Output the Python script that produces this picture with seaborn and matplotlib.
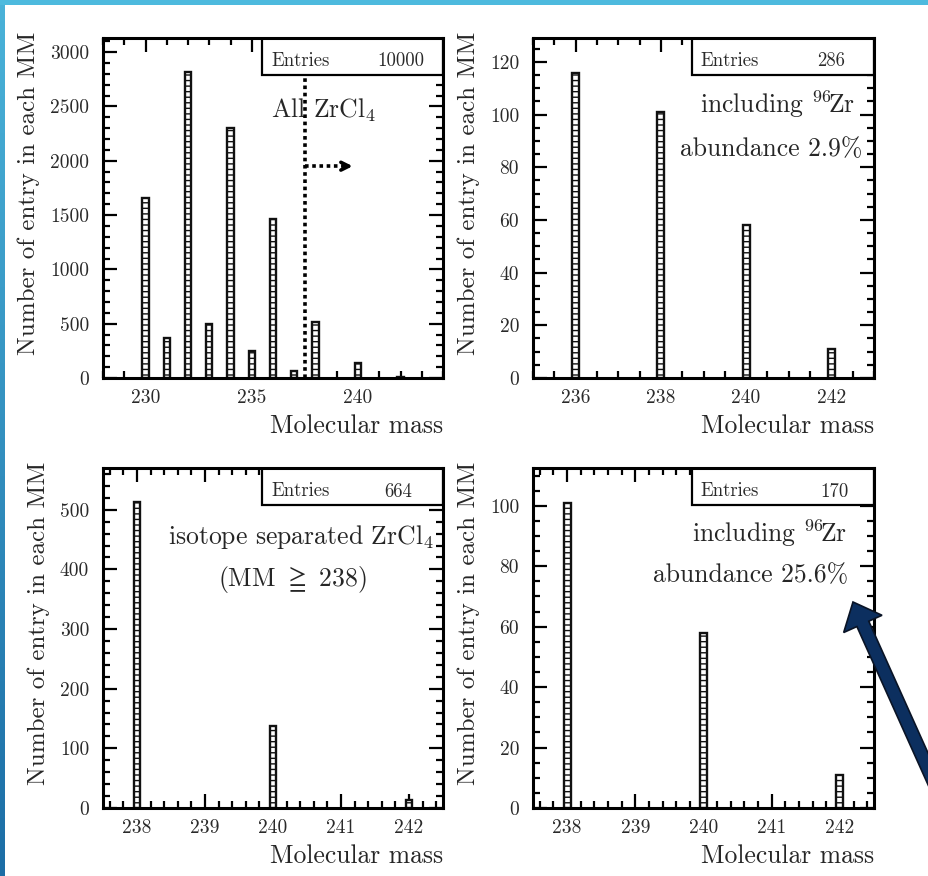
import numpy as np
import pandas as pd
import matplotlib
matplotlib.use("Agg")
import matplotlib.pyplot as plt
import seaborn as sns
from matplotlib.ticker import MultipleLocator, StrMethodFormatter
from matplotlib.patches import Rectangle, FancyArrow
from matplotlib.transforms import IdentityTransform

# ---------------- data ----------------
mass_all = [230, 231, 232, 233, 234, 235, 236, 237, 238, 240, 242]
count_all = [1660, 365, 2820, 495, 2305, 248, 1460, 62, 513, 140, 13]

mass_zr96 = [236, 238, 240, 242]
count_zr96 = [116, 101, 58, 11]

mass_sep = [238, 240, 242]
count_sep = [513, 138, 13]

mass_sep96 = [238, 240, 242]
count_sep96 = [101, 58, 11]

entries = ["10000", "286", "664", "170"]

# ---------------- style ----------------
sns.set_style("ticks")
plt.rcParams["font.family"] = ["cmr10", "DejaVu Serif"]
plt.rcParams["mathtext.fontset"] = "cm"
plt.rcParams["axes.formatter.use_mathtext"] = True
plt.rcParams["axes.unicode_minus"] = False

W, H = 929, 876
fig = plt.figure(figsize=(W / 100, H / 100), dpi=100)
fig.patch.set_facecolor("white")

def px_axes(x0, y0, x1, y1):
    return fig.add_axes([x0 / W, 1 - y1 / H, (x1 - x0) / W, (y1 - y0) / H])

ax_tl = px_axes(103, 38, 443, 378)
ax_tr = px_axes(533, 38, 874, 378)
ax_bl = px_axes(103, 468, 443, 808)
ax_br = px_axes(533, 468, 874, 808)

panels = [
    (ax_tl, mass_all, count_all, 0.29, (228, 244), 3130, 5, 1, 500, 100, 0.468),
    (ax_tr, mass_zr96, count_zr96, 0.085, (235, 243), 129.1, 2, 0.5, 20, 5, 0.466),
    (ax_bl, mass_sep, count_sep, 0.042, (237.5, 242.5), 570, 1, 0.2, 100, 20, 0.468),
    (ax_br, mass_sep96, count_sep96, 0.05, (237.5, 242.5), 112.5, 1, 0.2, 20, 5, 0.466),
]

for ax, xs, ys, bw, xlim, ymax, xmaj, xmin, ymaj, ymin, boxx in panels:
    df = pd.DataFrame({"mass": xs, "count": ys})
    sns.barplot(data=df, x="mass", y="count", native_scale=True, errorbar=None,
                width=bw, color="white", edgecolor="black", linewidth=1.7,
                hatch="---", ax=ax, zorder=2)
    for p in ax.patches:
        p.set_facecolor("white")
        p.set_edgecolor("#111111")
    ax.set_xlim(*xlim)
    ax.set_ylim(0, ymax)
    ax.xaxis.set_major_locator(MultipleLocator(xmaj))
    ax.xaxis.set_minor_locator(MultipleLocator(xmin))
    ax.yaxis.set_major_locator(MultipleLocator(ymaj))
    ax.yaxis.set_minor_locator(MultipleLocator(ymin))
    ax.xaxis.set_major_formatter(StrMethodFormatter("{x:g}"))
    ax.yaxis.set_major_formatter(StrMethodFormatter("{x:g}"))
    ax.tick_params(which="both", direction="in", top=True, right=True, width=1.6,
                   labelsize=14, colors="black", labelcolor="#2a2a2a")
    ax.tick_params(which="major", length=10)
    ax.tick_params(which="minor", length=5)
    ax.tick_params(axis="y", which="major", pad=10)
    ax.tick_params(axis="x", which="major", pad=8)
    for s in ax.spines.values():
        s.set_linewidth(2.2)
        s.set_color("black")
        s.set_zorder(5)
    ax.set_xlabel("Molecular mass", loc="right", fontsize=18.5, labelpad=5)
    ax.set_ylabel("Number of entry in each MM", loc="top", fontsize=18, labelpad=7)
    ax.yaxis.label.set_y(1.02)
    # statistics box
    ax.add_patch(Rectangle((boxx, 0.891), 1 - boxx, 0.109, transform=ax.transAxes,
                           facecolor="white", edgecolor="black", linewidth=1.6,
                           zorder=3))
    ax.text(boxx + 0.026, 0.932, "Entries", transform=ax.transAxes, fontsize=13.5,
            ha="left", va="center", zorder=6, color="#2a2a2a")

# Entries numbers
ax_tl.text(0.944, 0.932, entries[0], transform=ax_tl.transAxes, fontsize=13.5,
           ha="right", va="center", zorder=6, color="#2a2a2a")
ax_tr.text(0.915, 0.932, entries[1], transform=ax_tr.transAxes, fontsize=13.5,
           ha="right", va="center", zorder=6, color="#2a2a2a")
ax_bl.text(0.908, 0.929, entries[2], transform=ax_bl.transAxes, fontsize=13.5,
           ha="right", va="center", zorder=6, color="#2a2a2a")
ax_br.text(0.924, 0.929, entries[3], transform=ax_br.transAxes, fontsize=13.5,
           ha="right", va="center", zorder=6, color="#2a2a2a")

# panel annotations
ax_tl.text(0.494, 0.788, r"All ZrCl$_4$", transform=ax_tl.transAxes, fontsize=18.5,
           ha="left", va="center")
ax_tl.axvline(237.5, ymin=0, ymax=0.891, color="black", linestyle=(0, (1, 1)),
              linewidth=2.6, zorder=4)
ax_tl.plot([237.5, 239.5], [1950, 1950], color="black", linestyle=(0, (1, 1)),
           linewidth=2.6, zorder=4)
ax_tl.annotate("", xy=(239.75, 1950), xytext=(239.3, 1950),
               arrowprops=dict(arrowstyle="->", color="black", lw=2.6,
                               mutation_scale=14, shrinkA=0, shrinkB=0))

ax_tr.text(0.944, 0.806, r"including $^{96}\!$Zr", transform=ax_tr.transAxes,
           fontsize=18.5, ha="right", va="center")
ax_tr.text(0.965, 0.674, "abundance 2.9%", transform=ax_tr.transAxes,
           fontsize=18.5, ha="right", va="center")

ax_bl.text(0.582, 0.797, r"isotope separated ZrCl$_4$", transform=ax_bl.transAxes,
           fontsize=18.5, ha="center", va="center")
ax_bl.text(0.556, 0.671, r"(MM $\geqq$ 238)", transform=ax_bl.transAxes,
           fontsize=18.5, ha="center", va="center")

ax_br.text(0.921, 0.809, r"including $^{96}\!$Zr", transform=ax_br.transAxes,
           fontsize=18.5, ha="right", va="center")
ax_br.text(0.924, 0.685, "abundance 25.6%", transform=ax_br.transAxes,
           fontsize=18.5, ha="right", va="center")

# slide decoration: blue strips
grad_ax = fig.add_axes([0, 0, 5 / W, 1])
grad = np.linspace(0, 1, 256).reshape(-1, 1)
top_c = np.array([0.29, 0.70, 0.85])
bot_c = np.array([0.11, 0.43, 0.65])
img = top_c[None, None, :] * (1 - grad[..., None]) + bot_c[None, None, :] * grad[..., None]
grad_ax.imshow(img, aspect="auto", extent=(0, 1, 0, 1))
grad_ax.set_axis_off()
fig.add_artist(Rectangle((0, 1 - 5 / H), 1, 5 / H, transform=fig.transFigure,
                         facecolor="#4dbade", edgecolor="none", zorder=10))

# big navy arrow (display pixel coordinates)
tip = (853, H - 602)
tail = (978, H - 880)
fig.add_artist(FancyArrow(tail[0], tail[1], tip[0] - tail[0], tip[1] - tail[1],
                          width=13, head_width=42, head_length=24,
                          length_includes_head=True, transform=IdentityTransform(),
                          facecolor="#0c2f5f", edgecolor="#0a1426", linewidth=1.2,
                          zorder=20))

fig.savefig("out.png", dpi=100)
